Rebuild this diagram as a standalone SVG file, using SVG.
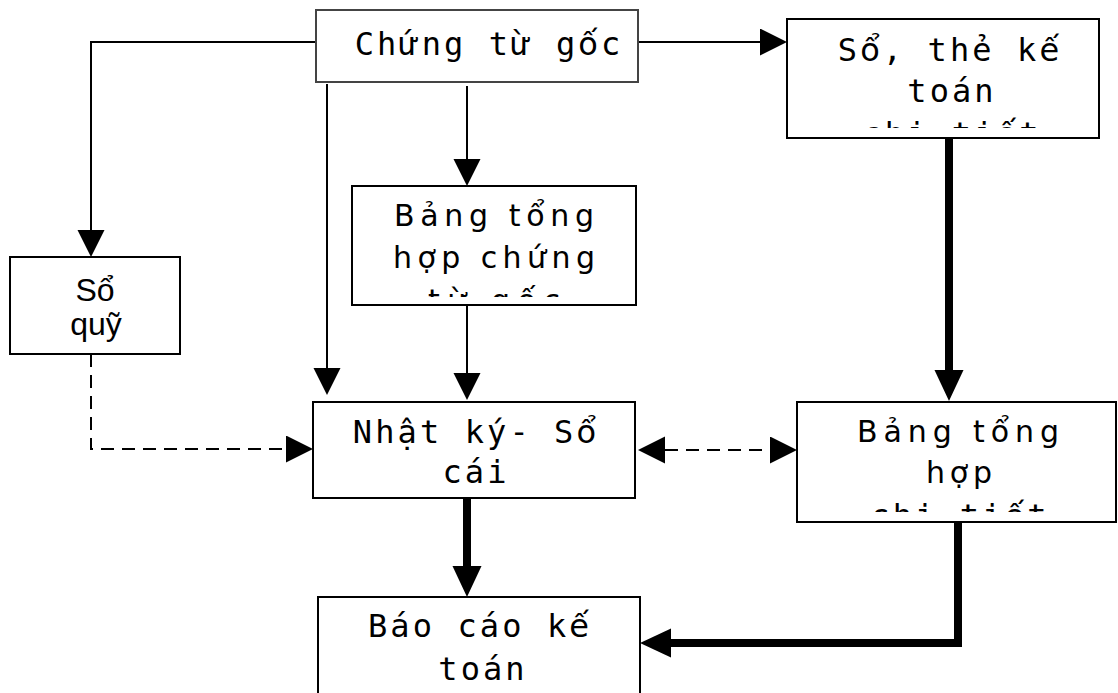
<svg xmlns="http://www.w3.org/2000/svg" width="1118" height="693" viewBox="0 0 1118 693">
<style>
.box{fill:#fff;stroke:#000;stroke-width:2}
.mono{font-family:"DejaVu Sans Mono","DejaVu Sans",monospace;font-size:32px;letter-spacing:3.1px;text-anchor:middle;fill:#000}
.v{font-family:"DejaVu Sans",sans-serif}
.sans{font-family:"DejaVu Sans",sans-serif;font-size:30px;text-anchor:middle;fill:#000}
.lib{font-family:"Liberation Sans",Arial,sans-serif;font-size:32px;text-anchor:middle;fill:#000}
.thin{fill:none;stroke:#000;stroke-width:2}
.thick{fill:none;stroke:#000;stroke-width:8}
.dash{fill:none;stroke:#000;stroke-width:2;stroke-dasharray:13 8}
</style>
<defs>
<marker id="ah" markerUnits="userSpaceOnUse" markerWidth="28" markerHeight="28" refX="0" refY="13.5" orient="auto-start-reverse" viewBox="0 0 28 28">
<path d="M0,0 L27,13.5 L0,27 z" fill="#000"/>
</marker>
<marker id="ahb" markerUnits="userSpaceOnUse" markerWidth="32" markerHeight="30" refX="0" refY="14.5" orient="auto" viewBox="0 0 32 30">
<path d="M0,0 L31,14.5 L0,29 z" fill="#000"/>
</marker>
<clipPath id="c1"><rect x="788" y="20" width="310" height="108"/></clipPath>
<clipPath id="c2"><rect x="353" y="187" width="282" height="110"/></clipPath>
<clipPath id="c3"><rect x="798" y="403" width="317" height="109"/></clipPath>
</defs>

<g id="connectors">
<path class="thin" d="M316,42 H91 V230" marker-end="url(#ah)"/>
<path class="thin" d="M327,84 V368" marker-end="url(#ah)"/>
<path class="thin" d="M467,86 V159" marker-end="url(#ah)"/>
<path class="thin" d="M467,305 V373" marker-end="url(#ah)"/>
<path class="thin" d="M638,42 H760" marker-end="url(#ah)"/>
<path class="thick" d="M949,138 V370" marker-end="url(#ahb)"/>
<path class="dash" d="M91,354 V449 H286" marker-end="url(#ah)"/>
<path class="dash" d="M665,450 H770" marker-start="url(#ah)" marker-end="url(#ah)"/>
<path class="thick" d="M467,498 V566" marker-end="url(#ahb)"/>
<path class="thick" d="M958,522 V643 H671" marker-end="url(#ahb)"/>
</g>

<g id="chung-tu-goc">
<rect class="box" x="316" y="10" width="322" height="72" style="stroke:#444"/>
<text class="mono" x="489" y="55">Chứng từ g<tspan class="v">ố</tspan>c</text>
</g>

<g id="so-the-ke-toan">
<rect class="box" x="787" y="19" width="312" height="119"/>
<g clip-path="url(#c1)">
<text class="mono" x="950" y="61">S<tspan class="v">ổ</tspan>, thẻ k<tspan class="v">ế</tspan></text>
<text class="mono" x="952" y="102">toán</text>
<text class="mono" x="952" y="145">chi ti<tspan class="v">ế</tspan>t</text>
</g>
</g>

<g id="bang-tong-hop-chung-tu">
<rect class="box" x="352" y="186" width="284" height="119"/>
<g clip-path="url(#c2)">
<text class="sans" x="494" y="226" textLength="200" lengthAdjust="spacing">Bảng tổng</text>
<text class="sans" x="494" y="268" textLength="202" lengthAdjust="spacing">hợp chứng</text>
<text class="sans" x="494" y="311" textLength="132" lengthAdjust="spacing">từ gốc</text>
</g>
</g>

<g id="so-quy">
<rect class="box" x="10" y="257" width="170" height="97"/>
<text class="lib" x="95" y="301">Sổ</text>
<text class="lib" x="96" y="335">quỹ</text>
</g>

<g id="nhat-ky-so-cai">
<rect class="box" x="313" y="402" width="322" height="96"/>
<text class="mono" x="476" y="443">Nhật ký- S<tspan class="v">ổ</tspan></text>
<text class="mono" x="476" y="483">cái</text>
</g>

<g id="bang-tong-hop-chi-tiet">
<rect class="box" x="797" y="402" width="319" height="120"/>
<g clip-path="url(#c3)">
<text class="sans" x="958" y="442" textLength="202" lengthAdjust="spacing">Bảng tổng</text>
<text class="sans" x="959" y="483" textLength="66" lengthAdjust="spacing">hợp</text>
<text class="mono" x="960" y="527">chi ti<tspan class="v">ế</tspan>t</text>
</g>
</g>

<g id="bao-cao-ke-toan">
<rect class="box" x="318" y="597" width="322" height="110"/>
<text class="mono" x="480" y="637">Báo cáo k<tspan class="v">ế</tspan></text>
<text class="mono" x="483" y="680">toán</text>
</g>
</svg>
